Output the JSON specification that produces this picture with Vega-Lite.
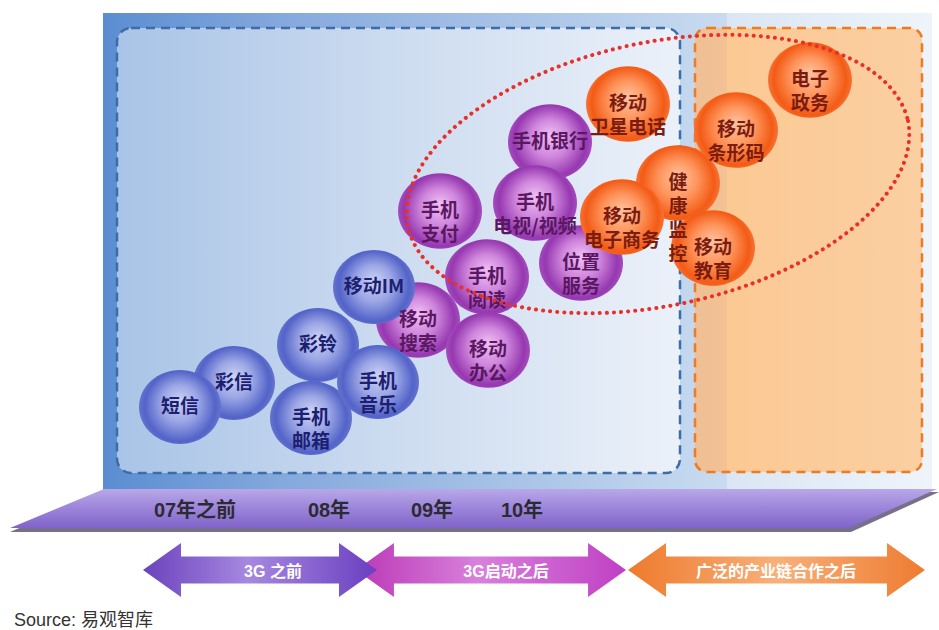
{
  "$schema": "https://vega.github.io/schema/vega-lite/v6.json",
  "width": 939,
  "height": 630,
  "autosize": {"type": "fit", "contains": "padding"},
  "padding": 0,
  "background": "white",
  "config": {"view": {"stroke": null}, "font": "Noto Sans CJK SC"},
  "datasets": {
    "bubbles": [
      {"label": "手机银行", "group": "purple", "x": 550, "y": 142},
      {"label": "手机\n支付", "group": "purple", "x": 440, "y": 211},
      {"label": "位置\n服务", "group": "purple", "x": 581, "y": 263},
      {"label": "手机\n电视/视频", "group": "purple", "x": 535, "y": 203},
      {"label": "手机\n阅读", "group": "purple", "x": 487, "y": 277},
      {"label": "移动\n搜索", "group": "purple", "x": 418, "y": 320},
      {"label": "移动\n办公", "group": "purple", "x": 488, "y": 350},
      {"label": "移动IM", "group": "blue", "x": 374, "y": 287},
      {"label": "彩铃", "group": "blue", "x": 318, "y": 345},
      {"label": "彩信", "group": "blue", "x": 234, "y": 383},
      {"label": "手机\n邮箱", "group": "blue", "x": 311, "y": 418},
      {"label": "手机\n音乐", "group": "blue", "x": 378, "y": 382},
      {"label": "短信", "group": "blue", "x": 180, "y": 407},
      {"label": "移动\n卫星电话", "group": "orange", "x": 628, "y": 104},
      {"label": "电子\n政务", "group": "orange", "x": 810, "y": 80},
      {"label": "移动\n条形码", "group": "orange", "x": 736, "y": 130},
      {"label": "健\n康\n监\n控", "group": "orange", "x": 678, "y": 183},
      {"label": "移动\n电子商务", "group": "orange", "x": 622, "y": 217},
      {"label": "移动\n教育", "group": "orange", "x": 713, "y": 248}
    ]
  },
  "layer": [
    {
      "data": {"values": [{"x": 103, "x2": 727, "y": 13, "y2": 490}]},
      "mark": {"type": "rect", "fill": {"gradient": "linear", "x1": 0, "y1": 0, "x2": 1, "y2": 0, "stops": [{"offset": 0, "color": "#5a8dd1"}, {"offset": 0.3, "color": "#86aadd"}, {"offset": 1, "color": "#c9dbf0"}]}},
      "encoding": {
        "x": {"field": "x", "type": "quantitative", "scale": {"domain": [0, 939], "nice": false, "zero": false}, "axis": null},
        "x2": {"field": "x2"},
        "y": {"field": "y", "type": "quantitative", "scale": {"domain": [0, 630], "nice": false, "zero": false, "reverse": true}, "axis": null},
        "y2": {"field": "y2"}
      }
    },
    {
      "data": {"values": [{"x": 727, "x2": 932, "y": 13, "y2": 490}]},
      "mark": {"type": "rect", "fill": {"gradient": "linear", "x1": 0, "y1": 0, "x2": 1, "y2": 0, "stops": [{"offset": 0, "color": "#dae6f4"}, {"offset": 1, "color": "#eef4fa"}]}},
      "encoding": {
        "x": {"field": "x", "type": "quantitative", "scale": {"domain": [0, 939], "nice": false, "zero": false}, "axis": null},
        "x2": {"field": "x2"},
        "y": {"field": "y", "type": "quantitative", "scale": {"domain": [0, 630], "nice": false, "zero": false, "reverse": true}, "axis": null},
        "y2": {"field": "y2"}
      }
    },
    {
      "data": {"values": [{"x": 117, "x2": 680, "y": 28, "y2": 473}]},
      "mark": {"type": "rect", "cornerRadius": 14, "stroke": "#3d6ca8", "strokeWidth": 2.5, "strokeDash": [9, 6], "fill": {"gradient": "linear", "x1": 0, "y1": 0, "x2": 1, "y2": 0, "stops": [{"offset": 0, "color": "#a9c4e7"}, {"offset": 0.5, "color": "#cddcf0"}, {"offset": 1, "color": "#ebf1f9"}]}},
      "encoding": {
        "x": {"field": "x", "type": "quantitative", "scale": {"domain": [0, 939], "nice": false, "zero": false}, "axis": null},
        "x2": {"field": "x2"},
        "y": {"field": "y", "type": "quantitative", "scale": {"domain": [0, 630], "nice": false, "zero": false, "reverse": true}, "axis": null},
        "y2": {"field": "y2"}
      }
    },
    {
      "data": {"values": [{"x": 695, "x2": 922, "y": 28, "y2": 472}]},
      "mark": {"type": "rect", "cornerRadius": 12, "stroke": "#ee7a22", "strokeWidth": 2.5, "strokeDash": [9, 6], "fill": {"gradient": "linear", "x1": 0, "y1": 0, "x2": 1, "y2": 0, "stops": [{"offset": 0, "color": "#efbf95"}, {"offset": 0.14, "color": "#f2c295"}, {"offset": 0.141, "color": "#fbc993"}, {"offset": 1, "color": "#fbcfa2"}]}},
      "encoding": {
        "x": {"field": "x", "type": "quantitative", "scale": {"domain": [0, 939], "nice": false, "zero": false}, "axis": null},
        "x2": {"field": "x2"},
        "y": {"field": "y", "type": "quantitative", "scale": {"domain": [0, 630], "nice": false, "zero": false, "reverse": true}, "axis": null},
        "y2": {"field": "y2"}
      }
    },
    {
      "data": {"values": [{"x": 10, "y": 532, "y2": 532}, {"x": 103, "y": 492, "y2": 532}, {"x": 851, "y": 492, "y2": 532}, {"x": 939, "y": 492, "y2": 492}]},
      "mark": {"type": "area", "color": "#77708a", "opacity": 1},
      "encoding": {
        "x": {"field": "x", "type": "quantitative", "scale": {"domain": [0, 939], "nice": false, "zero": false}, "axis": null},
        "y": {"field": "y", "type": "quantitative", "scale": {"domain": [0, 630], "nice": false, "zero": false, "reverse": true}, "axis": null},
        "y2": {"field": "y2"}
      }
    },
    {
      "data": {"values": [{"x": 10, "y": 528, "y2": 528}, {"x": 104, "y": 489, "y2": 528}, {"x": 849, "y": 489, "y2": 528}, {"x": 937, "y": 489, "y2": 489}]},
      "mark": {"type": "area", "opacity": 1, "fill": {"gradient": "linear", "x1": 0, "y1": 0, "x2": 0, "y2": 1, "stops": [{"offset": 0, "color": "#b8a8e8"}, {"offset": 0.5, "color": "#9c84da"}, {"offset": 1, "color": "#8064c8"}]}},
      "encoding": {
        "x": {"field": "x", "type": "quantitative", "scale": {"domain": [0, 939], "nice": false, "zero": false}, "axis": null},
        "y": {"field": "y", "type": "quantitative", "scale": {"domain": [0, 630], "nice": false, "zero": false, "reverse": true}, "axis": null},
        "y2": {"field": "y2"}
      }
    },
    {
      "data": {"values": [{"label": "07年之前", "x": 195, "y": 511}, {"label": "08年", "x": 329, "y": 511}, {"label": "09年", "x": 432, "y": 511}, {"label": "10年", "x": 522, "y": 511}]},
      "mark": {"type": "text", "font": "Liberation Sans, Noto Sans CJK SC", "fontSize": 20, "fontWeight": "bold", "color": "#2b2b33", "align": "center", "baseline": "middle"},
      "encoding": {
        "x": {"field": "x", "type": "quantitative", "scale": {"domain": [0, 939], "nice": false, "zero": false}, "axis": null},
        "y": {"field": "y", "type": "quantitative", "scale": {"domain": [0, 630], "nice": false, "zero": false, "reverse": true}, "axis": null},
        "text": {"field": "label"}
      }
    },
    {
      "data": {"values": [{"x": 491, "y": 570}]},
      "mark": {"type": "point", "filled": true, "opacity": 1, "strokeWidth": 0, "size": 72900, "shape": "M-1,0L-0.719,-0.2L-0.719,-0.1L0.719,-0.1L0.719,-0.2L1,0L0.719,0.2L0.719,0.1L-0.719,0.1L-0.719,0.2Z", "fill": {"gradient": "linear", "x1": 0, "y1": 0, "x2": 1, "y2": 0, "stops": [{"offset": 0, "color": "#bb38b6"}, {"offset": 0.45, "color": "#d880dc"}, {"offset": 1, "color": "#c040c4"}]}},
      "encoding": {
        "x": {"field": "x", "type": "quantitative", "scale": {"domain": [0, 939], "nice": false, "zero": false}, "axis": null},
        "y": {"field": "y", "type": "quantitative", "scale": {"domain": [0, 630], "nice": false, "zero": false, "reverse": true}, "axis": null}
      }
    },
    {
      "data": {"values": [{"x": 776.5, "y": 570}]},
      "mark": {"type": "point", "filled": true, "opacity": 1, "strokeWidth": 0, "size": 88209, "shape": "M-1,0L-0.744,-0.182L-0.744,-0.091L0.744,-0.091L0.744,-0.182L1,0L0.744,0.182L0.744,0.091L-0.744,0.091L-0.744,0.182Z", "fill": {"gradient": "linear", "x1": 0, "y1": 0, "x2": 1, "y2": 0, "stops": [{"offset": 0, "color": "#ee7a2c"}, {"offset": 0.5, "color": "#f8b07a"}, {"offset": 1, "color": "#ee7c30"}]}},
      "encoding": {
        "x": {"field": "x", "type": "quantitative", "scale": {"domain": [0, 939], "nice": false, "zero": false}, "axis": null},
        "y": {"field": "y", "type": "quantitative", "scale": {"domain": [0, 630], "nice": false, "zero": false, "reverse": true}, "axis": null}
      }
    },
    {
      "data": {"values": [{"x": 260, "y": 570}]},
      "mark": {"type": "point", "filled": true, "opacity": 1, "strokeWidth": 0, "size": 54756, "shape": "M-1,0L-0.675,-0.231L-0.675,-0.115L0.675,-0.115L0.675,-0.231L1,0L0.675,0.231L0.675,0.115L-0.675,0.115L-0.675,0.231Z", "fill": {"gradient": "linear", "x1": 0, "y1": 0, "x2": 1, "y2": 0, "stops": [{"offset": 0, "color": "#6b42bc"}, {"offset": 0.45, "color": "#a688e0"}, {"offset": 1, "color": "#6a3fc0"}]}},
      "encoding": {
        "x": {"field": "x", "type": "quantitative", "scale": {"domain": [0, 939], "nice": false, "zero": false}, "axis": null},
        "y": {"field": "y", "type": "quantitative", "scale": {"domain": [0, 630], "nice": false, "zero": false, "reverse": true}, "axis": null}
      }
    },
    {
      "data": {"values": [{"label": "3G 之前", "x": 273, "y": 572}, {"label": "3G启动之后", "x": 506, "y": 572}, {"label": "广泛的产业链合作之后", "x": 776, "y": 572}]},
      "mark": {"type": "text", "font": "Liberation Sans, Noto Sans CJK SC", "fontSize": 16, "fontWeight": "bold", "color": "#ffffff", "align": "center", "baseline": "middle"},
      "encoding": {
        "x": {"field": "x", "type": "quantitative", "scale": {"domain": [0, 939], "nice": false, "zero": false}, "axis": null},
        "y": {"field": "y", "type": "quantitative", "scale": {"domain": [0, 630], "nice": false, "zero": false, "reverse": true}, "axis": null},
        "text": {"field": "label"}
      }
    },
    {
      "data": {"name": "bubbles"},
      "transform": [{"filter": "datum.group === 'purple'"}],
      "mark": {"type": "point", "filled": true, "opacity": 1, "strokeWidth": 0, "size": 7056, "shape": "M-1,0A1,0.9,0,1,1,1,0A1,0.9,0,1,1,-1,0Z", "fill": {"gradient": "radial", "x1": 0.5, "y1": 0.42, "r1": 0, "x2": 0.5, "y2": 0.5, "r2": 0.5, "stops": [{"offset": 0, "color": "#f1c0f4"}, {"offset": 0.45, "color": "#cf86dc"}, {"offset": 0.86, "color": "#9638b0"}, {"offset": 1, "color": "#a64cbe"}]}},
      "encoding": {
        "x": {"field": "x", "type": "quantitative", "scale": {"domain": [0, 939], "nice": false, "zero": false}, "axis": null},
        "y": {"field": "y", "type": "quantitative", "scale": {"domain": [0, 630], "nice": false, "zero": false, "reverse": true}, "axis": null}
      }
    },
    {
      "data": {"name": "bubbles"},
      "transform": [{"filter": "datum.group === 'blue'"}],
      "mark": {"type": "point", "filled": true, "opacity": 1, "strokeWidth": 0, "size": 6724, "shape": "M-1,0A1,0.9,0,1,1,1,0A1,0.9,0,1,1,-1,0Z", "fill": {"gradient": "radial", "x1": 0.5, "y1": 0.42, "r1": 0, "x2": 0.5, "y2": 0.5, "r2": 0.5, "stops": [{"offset": 0, "color": "#cdd3f4"}, {"offset": 0.45, "color": "#9ba6e5"}, {"offset": 0.86, "color": "#5363c8"}, {"offset": 1, "color": "#6574cf"}]}},
      "encoding": {
        "x": {"field": "x", "type": "quantitative", "scale": {"domain": [0, 939], "nice": false, "zero": false}, "axis": null},
        "y": {"field": "y", "type": "quantitative", "scale": {"domain": [0, 630], "nice": false, "zero": false, "reverse": true}, "axis": null}
      }
    },
    {
      "data": {"name": "bubbles"},
      "transform": [{"filter": "datum.group === 'orange'"}],
      "mark": {"type": "point", "filled": true, "opacity": 1, "strokeWidth": 0, "size": 7056, "shape": "M-1,0A1,0.9,0,1,1,1,0A1,0.9,0,1,1,-1,0Z", "fill": {"gradient": "radial", "x1": 0.5, "y1": 0.42, "r1": 0, "x2": 0.5, "y2": 0.5, "r2": 0.5, "stops": [{"offset": 0, "color": "#ffc3a0"}, {"offset": 0.45, "color": "#ff965e"}, {"offset": 0.86, "color": "#f35b15"}, {"offset": 1, "color": "#f77236"}]}},
      "encoding": {
        "x": {"field": "x", "type": "quantitative", "scale": {"domain": [0, 939], "nice": false, "zero": false}, "axis": null},
        "y": {"field": "y", "type": "quantitative", "scale": {"domain": [0, 630], "nice": false, "zero": false, "reverse": true}, "axis": null}
      }
    },
    {
      "data": {"name": "bubbles"},
      "mark": {"type": "text", "font": "Noto Sans CJK SC", "fontSize": 19, "fontWeight": "bold", "lineBreak": "\n", "lineHeight": 24, "align": "center", "baseline": "middle"},
      "encoding": {
        "x": {"field": "x", "type": "quantitative", "scale": {"domain": [0, 939], "nice": false, "zero": false}, "axis": null},
        "y": {"field": "y", "type": "quantitative", "scale": {"domain": [0, 630], "nice": false, "zero": false, "reverse": true}, "axis": null},
        "text": {"field": "label"},
        "color": {"field": "group", "type": "nominal", "scale": {"domain": ["blue", "purple", "orange"], "range": ["#1c2070", "#5a1762", "#7a1c10"]}, "legend": null}
      }
    },
    {
      "data": {"values": [{"x": 658, "y": 174}]},
      "mark": {"type": "point", "filled": false, "opacity": 1, "size": 261325, "shape": "M0.9781,-0.2079A1,0.52,-12,0,1,-0.9781,0.2079A1,0.52,-12,0,1,0.9781,-0.2079Z", "stroke": "#e8302a", "strokeWidth": 4, "strokeDash": [0.1, 7], "strokeCap": "round"},
      "encoding": {
        "x": {"field": "x", "type": "quantitative", "scale": {"domain": [0, 939], "nice": false, "zero": false}, "axis": null},
        "y": {"field": "y", "type": "quantitative", "scale": {"domain": [0, 630], "nice": false, "zero": false, "reverse": true}, "axis": null}
      }
    },
    {
      "data": {"values": [{"label": "Source: 易观智库", "x": 14, "y": 621}]},
      "mark": {"type": "text", "font": "Liberation Sans, Noto Sans CJK SC", "fontSize": 18, "color": "#333333", "align": "left", "baseline": "middle"},
      "encoding": {
        "x": {"field": "x", "type": "quantitative", "scale": {"domain": [0, 939], "nice": false, "zero": false}, "axis": null},
        "y": {"field": "y", "type": "quantitative", "scale": {"domain": [0, 630], "nice": false, "zero": false, "reverse": true}, "axis": null},
        "text": {"field": "label"}
      }
    }
  ]
}
